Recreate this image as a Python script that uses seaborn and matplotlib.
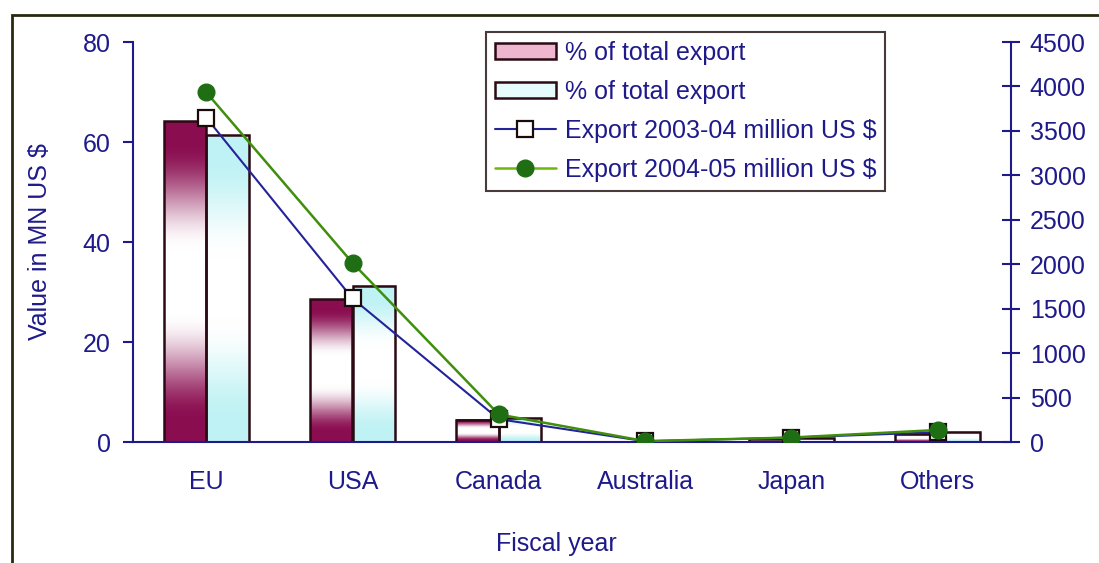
import numpy as np
import pandas as pd
import matplotlib
matplotlib.use("Agg")
import matplotlib.pyplot as plt
import seaborn as sns
from matplotlib.patches import Patch, Rectangle
from matplotlib.lines import Line2D
from matplotlib.colors import to_rgb

# ---------------- data ----------------
categories = ["EU", "USA", "Canada", "Australia", "Japan", "Others"]
pct_2003_04 = [64.2, 28.6, 4.5, 0.1, 0.6, 1.7]
pct_2004_05 = [61.4, 31.3, 4.9, 0.1, 0.8, 2.1]
export_2003_04 = [3650, 1615, 257, 8, 50, 110]
export_2004_05 = [3935, 2015, 310, 10, 50, 135]
bar_label = "% of total export"
line_labels = ["Export 2003-04 million US $", "Export 2004-05 million US $"]
left_ticks = [0, 20, 40, 60, 80]
right_ticks = [0, 500, 1000, 1500, 2000, 2500, 3000, 3500, 4000, 4500]

# ---------------- style ----------------
sns.set_theme(style="white")
plt.rcParams["font.family"] = ["Liberation Sans", "DejaVu Sans"]
NAVY = "#1e1a8a"
MAROON = "#8a0d50"
CYAN = "#bff2f4"
EDGE = "#2b0a14"
BLUE_LINE = "#23239a"
GREEN_LINE = "#3f8f0c"
GREEN_MK = "#1f6e14"
FS = 18

fig = plt.figure(figsize=(10.99, 5.63), dpi=100)
ax = fig.add_axes([133 / 1099, 1 - 442 / 563, (1011 - 133) / 1099, (442 - 42) / 563])

bars_df = pd.DataFrame({
    "cat": categories * 2,
    "val": pct_2003_04 + pct_2004_05,
    "series": ["2003-04"] * len(categories) + ["2004-05"] * len(categories),
})
sns.barplot(data=bars_df, x="cat", y="val", hue="series", order=categories,
            hue_order=["2003-04", "2004-05"], palette=[MAROON, CYAN],
            width=0.58, edgecolor=EDGE, linewidth=1.8, legend=False, ax=ax, zorder=2)

# gradient fills for the bars (mirrored: colour at ends, white in middle)
def grad_img(color, n=200):
    t = np.linspace(0, 1, n)
    w = np.clip((1 - np.abs(2 * t - 1)) * 1.5 - 0.2, 0, 1)
    w = w * w * (3 - 2 * w)
    c = np.array(to_rgb(color))
    img = c[None, :] * (1 - w[:, None]) + np.ones(3)[None, :] * w[:, None]
    return img[:, None, :]

n = len(categories)
for i, p in enumerate(ax.patches[:2 * n]):
    col = MAROON if i < n else CYAN
    x0, y0 = p.get_x(), p.get_y()
    wdt, hgt = p.get_width(), p.get_height()
    if hgt <= 0:
        continue
    p.set_facecolor("none")
    ax.imshow(grad_img(col), extent=(x0, x0 + wdt, y0, y0 + hgt), aspect="auto",
              origin="lower", zorder=1.9, interpolation="bilinear")

ax.set_xlim(-0.5, n - 0.5)
ax.set_ylim(0, 80)
ax.set_yticks(left_ticks)
ax.set_xticks(range(n))
ax.set_xticklabels(categories)
ax.set_xticks(np.arange(-0.5, n, 1.0), minor=True)
ax.tick_params(axis="x", which="major", length=0, pad=20, labelsize=FS, labelcolor=NAVY)
ax.tick_params(axis="x", which="minor", length=7, width=1.5, color=NAVY, direction="out")
ax.tick_params(axis="y", length=7, width=1.5, color=NAVY, direction="out", pad=9,
               labelsize=FS, labelcolor=NAVY, left=True)
ax.set_xlabel("Fiscal year", fontsize=FS, color=NAVY)
ax.xaxis.set_label_coords(0.482, -0.225)
ax.set_ylabel("Value in MN US $", fontsize=FS, color=NAVY, labelpad=22)
for s in ["top", "right"]:
    ax.spines[s].set_visible(False)
for s in ["left", "bottom"]:
    ax.spines[s].set_color(NAVY)
    ax.spines[s].set_linewidth(1.5)
ax.grid(False)

# ---------------- lines on right axis ----------------
ax2 = ax.twinx()
lines_df = pd.DataFrame({"cat": categories, "e0304": export_2003_04, "e0405": export_2004_05})
sns.lineplot(data=lines_df, x="cat", y="e0304", sort=False, ax=ax2, color=BLUE_LINE,
             linewidth=1.5, marker="s", markersize=11, markerfacecolor="white",
             markeredgecolor="#1a0a0a", markeredgewidth=1.6, zorder=5)
sns.lineplot(data=lines_df, x="cat", y="e0405", sort=False, ax=ax2, color=GREEN_LINE,
             linewidth=1.8, marker="o", markersize=12, markerfacecolor=GREEN_MK,
             markeredgecolor=GREEN_MK, markeredgewidth=1, zorder=6)
ax2.set_ylim(0, 4500)
ax2.set_yticks(right_ticks)
ax2.set_xlim(-0.5, n - 0.5)
ax2.set_ylabel("")
ax2.set_xlabel("")
ax2.tick_params(axis="y", length=13, width=1.5, color=NAVY, direction="inout", pad=7,
                labelsize=FS, labelcolor=NAVY, right=True)
for s in ["top", "left", "bottom"]:
    ax2.spines[s].set_visible(False)
ax2.spines["right"].set_color(NAVY)
ax2.spines["right"].set_linewidth(1.5)
ax2.grid(False)
# restore x tick labels (shared axis)
ax.set_xticks(range(n))
ax.set_xticklabels(categories)

# ---------------- legend ----------------
handles = [
    Patch(facecolor="#efb6d0", edgecolor=EDGE, linewidth=1.8),
    Patch(facecolor="#e6fbfb", edgecolor=EDGE, linewidth=1.8),
    Line2D([], [], color=BLUE_LINE, lw=1.5, marker="s", ms=11, mfc="white",
           mec="#1a0a0a", mew=1.6),
    Line2D([], [], color="#6cb80c", lw=1.8, marker="o", ms=12, mfc=GREEN_MK, mec=GREEN_MK),
]
labels = [bar_label, bar_label] + line_labels
leg = ax2.legend(handles, labels, loc="upper left",
                 bbox_to_anchor=(486 / 1099, 1 - 32 / 563), bbox_transform=fig.transFigure,
                 fontsize=FS, frameon=True, fancybox=False, handlelength=2.45,
                 handleheight=0.65, handletextpad=0.35, labelspacing=0.6,
                 borderpad=0.35, borderaxespad=0)
leg.get_frame().set_edgecolor("#1a0a0a")
leg.get_frame().set_linewidth(1.5)
for t in leg.get_texts():
    t.set_color(NAVY)

# outer frame
fig.patches.append(Rectangle((12 / 1099, -0.05), 1.2, 1 - 15 / 563 + 0.05,
                             transform=fig.transFigure, fill=False,
                             edgecolor="#2a2a12", linewidth=2, zorder=0))

fig.savefig("out.png", dpi=100)
